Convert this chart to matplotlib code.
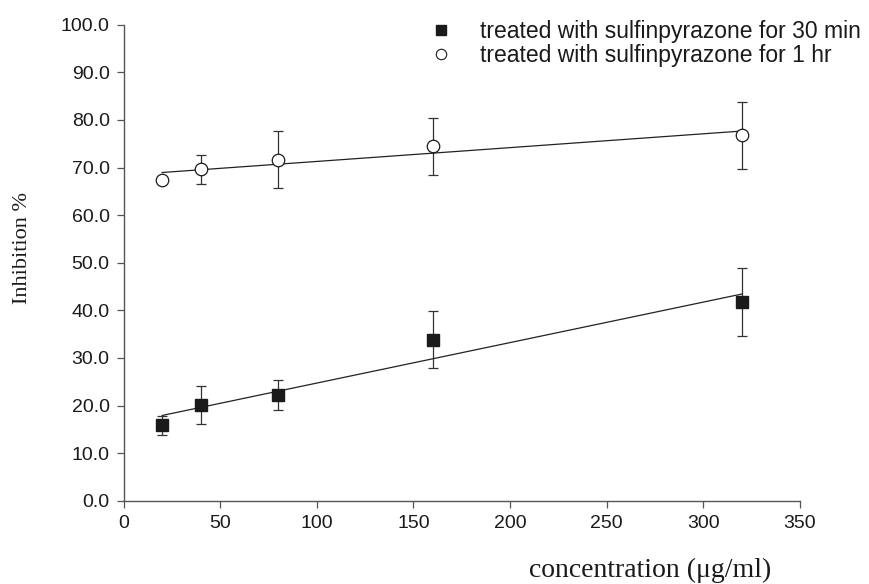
import numpy as np
import matplotlib
matplotlib.use("Agg")
import matplotlib.pyplot as plt
from matplotlib.lines import Line2D

# Concentration of sulfinpyrazone (ug/ml)
concentration = [20, 40, 80, 160, 320]

# Inhibition (%) after 30 min treatment, mean and SD
inhib_30min = [15.9, 20.2, 22.2, 33.8, 41.7]
err_30min = [2.0, 4.0, 3.1, 6.0, 7.1]

# Inhibition (%) after 1 hr treatment, mean and SD
inhib_1hr = [67.4, 69.6, 71.6, 74.5, 76.8]
err_1hr = [0.0, 3.0, 6.0, 6.0, 7.0]

legend_labels = ["treated with sulfinpyrazone for 30 min",
                 "treated with sulfinpyrazone for 1 hr"]

sans = ["Liberation Sans", "DejaVu Sans"]
serif = ["Liberation Serif", "DejaVu Serif"]
ink = "#1a1a1a"

fig = plt.figure(figsize=(8.7, 5.84), dpi=100)
ax = fig.add_axes([0.142, 0.1426, 0.7775, 0.815])

x = np.array(concentration, dtype=float)

for y, e, style in [
    (inhib_30min, err_30min, dict(marker="s", markersize=8, markerfacecolor=ink,
                                  markeredgecolor=ink)),
    (inhib_1hr, err_1hr, dict(marker="o", markersize=9, markerfacecolor="white",
                              markeredgecolor=ink, markeredgewidth=0.9)),
]:
    y = np.array(y)
    ax.errorbar(x, y, yerr=e, fmt="none", ecolor="#333333", elinewidth=0.9,
                capsize=3.7, capthick=0.9, zorder=2)
    slope, intercept = np.polyfit(x, y, 1)
    xf = np.array([x.min(), x.max()])
    ax.plot(xf, slope * xf + intercept, color="#222222", lw=0.9, zorder=3)
    ax.plot(x, y, linestyle="none", zorder=4, **style)

ax.set_xlim(0, 350)
ax.set_ylim(0, 100)
ax.set_xticks(np.arange(0, 351, 50))
ax.set_yticks(np.arange(0, 101, 10))
ax.set_yticklabels([f"{v:.1f}" for v in np.arange(0, 101, 10)])

for side in ["top", "right"]:
    ax.spines[side].set_visible(False)
for side in ["left", "bottom"]:
    ax.spines[side].set_color("#555555")
    ax.spines[side].set_linewidth(1.0)

ax.tick_params(axis="both", direction="out", length=5, width=0.9, color="#555555",
               labelsize=14, labelcolor=ink, pad=5)
for lab in ax.get_xticklabels() + ax.get_yticklabels():
    lab.set_family(sans)

fig.text(0.747, 0.024, "concentration (\u03bcg/ml)", family=serif, fontsize=20,
         ha="center", va="center", color=ink)
fig.text(0.026, 0.575, "Inhibition %", family=serif, fontsize=16,
         ha="center", va="center", rotation=90, color=ink)

handles = [
    Line2D([], [], marker="s", linestyle="none", markersize=6.5, markerfacecolor=ink,
           markeredgecolor=ink),
    Line2D([], [], marker="o", linestyle="none", markersize=7.5, markerfacecolor="white",
           markeredgecolor=ink, markeredgewidth=0.8),
]
leg = ax.legend(handles, legend_labels, loc="upper left", bbox_to_anchor=(0.439, 1.03),
                frameon=False, prop={"family": sans, "size": 16.5}, handlelength=1.0,
                handletextpad=1.2, labelspacing=0.05, borderaxespad=0)
for t in leg.get_texts():
    t.set_color(ink)

fig.savefig("out.png", dpi=100, facecolor="white")
